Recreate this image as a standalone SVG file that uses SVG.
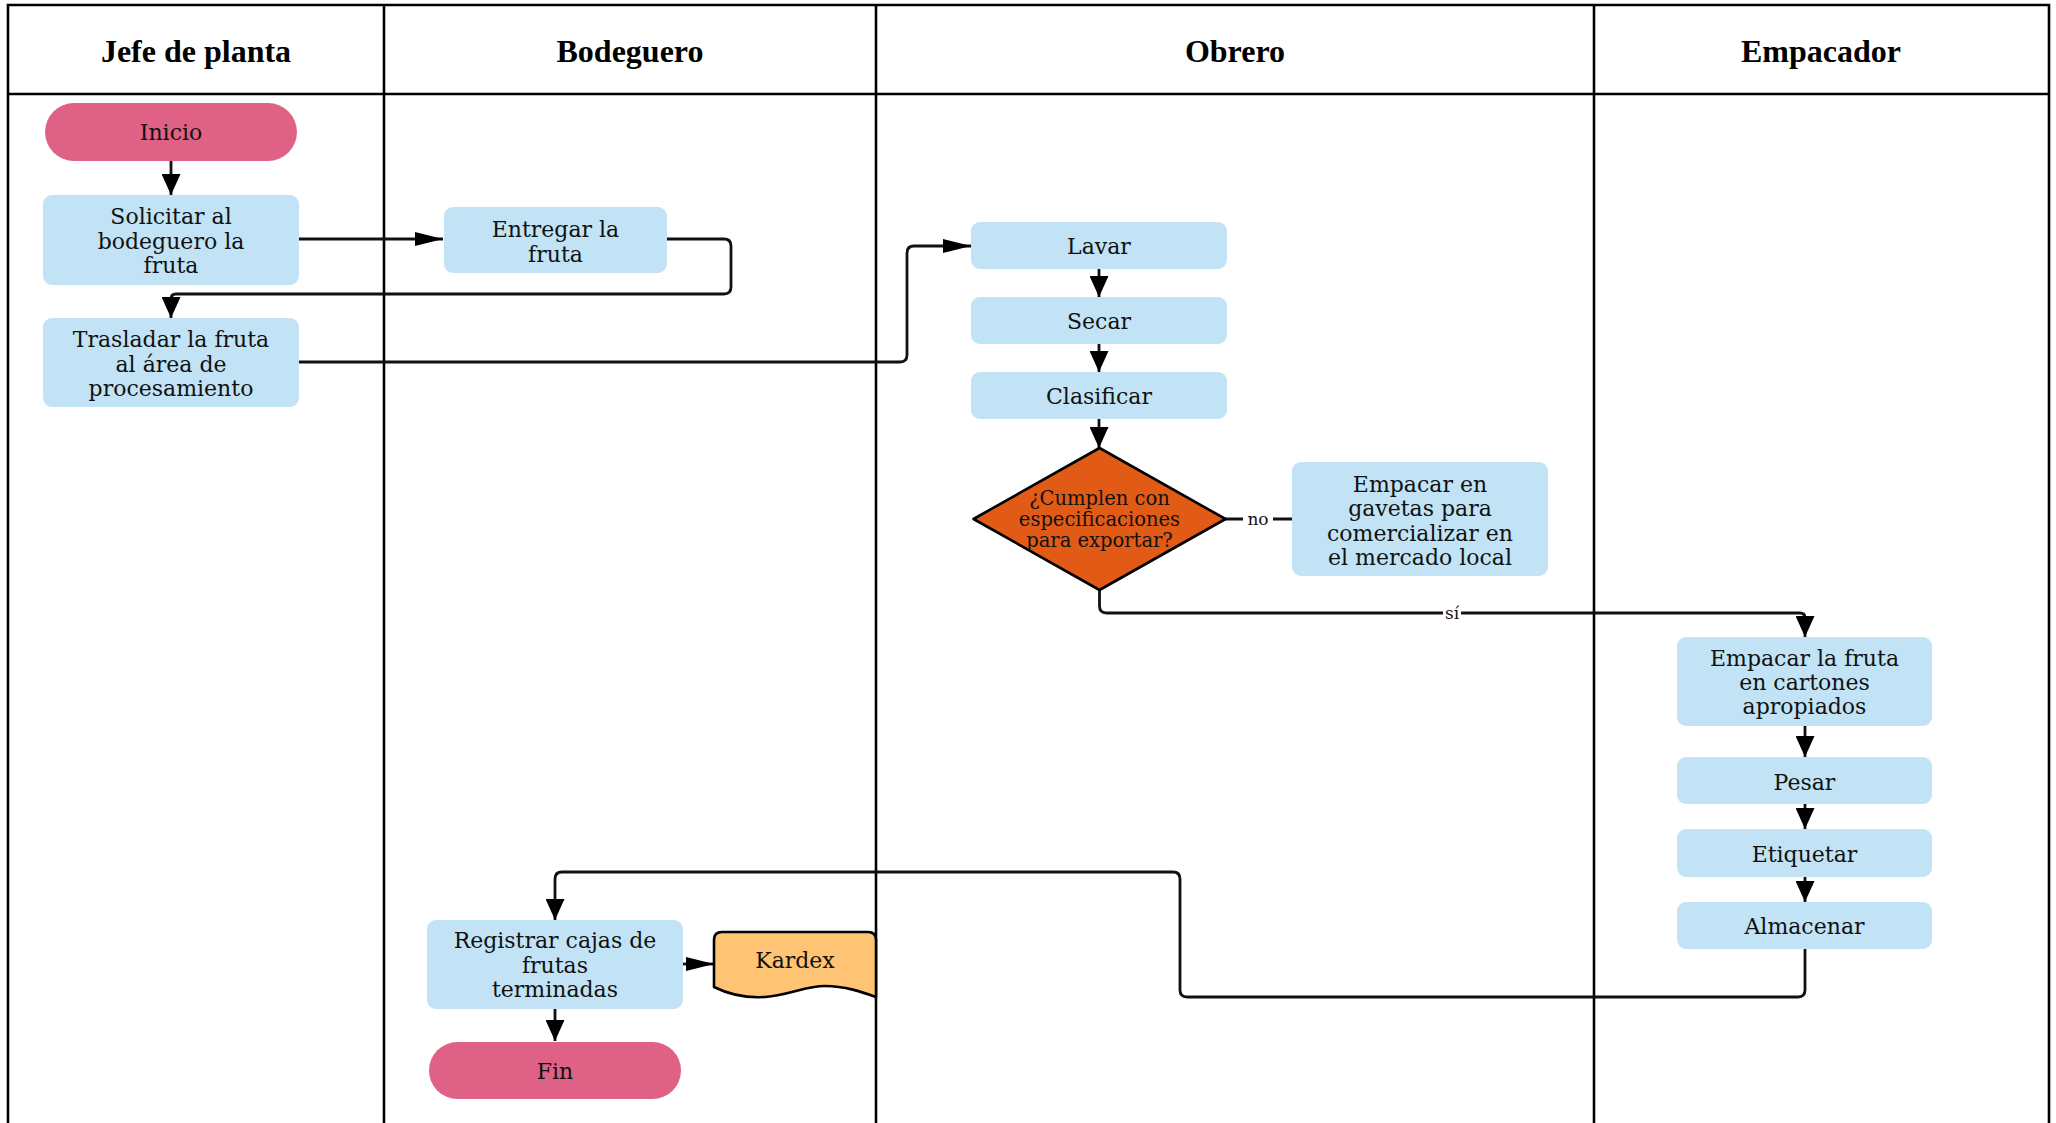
<svg xmlns="http://www.w3.org/2000/svg" width="2056" height="1123" viewBox="0 0 2056 1123">
<style>
.lane{fill:none;stroke:#000;stroke-width:2.6}
.hdr{font-family:"Liberation Serif","Times New Roman",serif;font-weight:bold;font-size:32px;fill:#000;text-anchor:middle}
.proc{fill:#C1E3F5}
.term{fill:#DF6286}
.dec{fill:#E15B17;stroke:#000;stroke-width:2.6;stroke-linejoin:round}
.doc{fill:#FFC473;stroke:#000;stroke-width:2.6;stroke-linejoin:round}
.t{font-family:"DejaVu Serif","Liberation Serif",serif;font-size:22px;fill:#111;text-anchor:middle}
.td{font-family:"DejaVu Serif","Liberation Serif",serif;font-size:19.5px;fill:#111;text-anchor:middle}
.lbl{font-family:"DejaVu Serif","Liberation Serif",serif;font-size:17px;fill:#111;text-anchor:middle}
.c{fill:none;stroke:#111;stroke-width:2.8;stroke-linejoin:round}
.cv{marker-end:url(#arrV)}
.ch{marker-end:url(#arrH)}
</style>
<defs>
<marker id="arrV" markerUnits="userSpaceOnUse" markerWidth="21" markerHeight="19" refX="21" refY="9.5" orient="auto" viewBox="0 0 21 19">
<path d="M0,0 L21,9.5 L0,19 Z" fill="#000"/>
</marker>
<marker id="arrH" markerUnits="userSpaceOnUse" markerWidth="28" markerHeight="14" refX="28" refY="7" orient="auto" viewBox="0 0 28 14">
<path d="M0,0 L28,7 L0,14 Z" fill="#000"/>
</marker>
</defs>
<rect x="0" y="0" width="2056" height="1123" fill="#fff"/>
<g id="lanes">
<path class="lane" d="M8,1123 V5 H2049 V1123"/>
<path class="lane" d="M8,94 H2049"/>
<path class="lane" d="M384,5 V1123 M876,5 V1123 M1594,5 V1123"/>
<text class="hdr" x="196" y="62">Jefe de planta</text>
<text class="hdr" x="630" y="62">Bodeguero</text>
<text class="hdr" x="1235" y="62">Obrero</text>
<text class="hdr" x="1821" y="62">Empacador</text>
</g>
<g id="connectors">
<path class="c cv" d="M171,161 V195"/>
<path class="c ch" d="M299,239 H443"/>
<path class="c cv" d="M667,239 H724 Q731,239 731,246 V287 Q731,294 724,294 H176 Q171,294 171,299 V318"/>
<path class="c ch" d="M299,362 H900 Q907,362 907,355 V253 Q907,246 914,246 H971"/>
<path class="c cv" d="M1099,269 V297"/>
<path class="c cv" d="M1099,344 V372"/>
<path class="c cv" d="M1099,419 V448"/>
<path class="c" d="M1225,519 H1292"/>
<rect x="1243" y="510" width="30" height="18" fill="#fff"/>
<text class="lbl" x="1258" y="525">no</text>
<path class="c cv" d="M1099.5,590 V606 Q1099.5,613 1106.5,613 H1800 Q1805,613 1805,618 V637"/>
<rect x="1443" y="603" width="18" height="20" fill="#fff"/>
<text class="lbl" x="1452" y="619">sí</text>
<path class="c cv" d="M1805,726 V757"/>
<path class="c cv" d="M1805,804 V829"/>
<path class="c cv" d="M1805,877 V902"/>
<path class="c cv" d="M1805,949 V990 Q1805,997 1798,997 H1187 Q1180,997 1180,990 V879 Q1180,872 1173,872 H562 Q555,872 555,879 V920"/>
<path class="c ch" d="M683,964 H714"/>
<path class="c cv" d="M555,1009 V1041"/>
</g>
<g id="inicio">
<rect class="term" x="45" y="103" width="252" height="58" rx="29"/>
<text class="t" x="171" y="140">Inicio</text>
</g>
<g id="solicitar">
<rect class="proc" x="43" y="195" width="256" height="90" rx="9"/>
<text class="t" x="171" y="224">Solicitar al</text>
<text class="t" x="171" y="248.5">bodeguero la</text>
<text class="t" x="171" y="273">fruta</text>
</g>
<g id="entregar">
<rect class="proc" x="444" y="207" width="223" height="66" rx="9"/>
<text class="t" x="555.5" y="237">Entregar la</text>
<text class="t" x="555.5" y="262">fruta</text>
</g>
<g id="trasladar">
<rect class="proc" x="43" y="318" width="256" height="89" rx="9"/>
<text class="t" x="171" y="347">Trasladar la fruta</text>
<text class="t" x="171" y="371.5">al área de</text>
<text class="t" x="171" y="396">procesamiento</text>
</g>
<g id="lavar">
<rect class="proc" x="971" y="222" width="256" height="47" rx="9"/>
<text class="t" x="1099" y="254">Lavar</text>
</g>
<g id="secar">
<rect class="proc" x="971" y="297" width="256" height="47" rx="9"/>
<text class="t" x="1099" y="329">Secar</text>
</g>
<g id="clasificar">
<rect class="proc" x="971" y="372" width="256" height="47" rx="9"/>
<text class="t" x="1099" y="404">Clasificar</text>
</g>
<g id="decision">
<path class="dec" d="M1099.5,448 L1225.5,519 L1099.5,590 L973.5,519 Z"/>
<text class="td" x="1099.5" y="505">¿Cumplen con</text>
<text class="td" x="1099.5" y="526">especificaciones</text>
<text class="td" x="1099.5" y="547">para exportar?</text>
</g>
<g id="gavetas">
<rect class="proc" x="1292" y="462" width="256" height="114" rx="9"/>
<text class="t" x="1420" y="492">Empacar en</text>
<text class="t" x="1420" y="516">gavetas para</text>
<text class="t" x="1420" y="540.5">comercializar en</text>
<text class="t" x="1420" y="565">el mercado local</text>
</g>
<g id="empacar">
<rect class="proc" x="1677" y="637" width="255" height="89" rx="9"/>
<text class="t" x="1804.5" y="666">Empacar la fruta</text>
<text class="t" x="1804.5" y="690">en cartones</text>
<text class="t" x="1804.5" y="714">apropiados</text>
</g>
<g id="pesar">
<rect class="proc" x="1677" y="757" width="255" height="47" rx="9"/>
<text class="t" x="1804.5" y="790">Pesar</text>
</g>
<g id="etiquetar">
<rect class="proc" x="1677" y="829" width="255" height="48" rx="9"/>
<text class="t" x="1804.5" y="862">Etiquetar</text>
</g>
<g id="almacenar">
<rect class="proc" x="1677" y="902" width="255" height="47" rx="9"/>
<text class="t" x="1804.5" y="934">Almacenar</text>
</g>
<g id="registrar">
<rect class="proc" x="427" y="920" width="256" height="89" rx="9"/>
<text class="t" x="555" y="948">Registrar cajas de</text>
<text class="t" x="555" y="972.5">frutas</text>
<text class="t" x="555" y="997">terminadas</text>
</g>
<g id="kardex">
<path class="doc" d="M714,987 V940 Q714,932 722,932 H868 Q876,932 876,940 V997 C862,992 845,986 825,986 C805,986 790,995 765,997 C748,998 730,995 714,987 Z"/>
<text class="t" x="795" y="968">Kardex</text>
</g>
<g id="fin">
<rect class="term" x="429" y="1042" width="252" height="57" rx="28.5"/>
<text class="t" x="555" y="1079">Fin</text>
</g>
</svg>
